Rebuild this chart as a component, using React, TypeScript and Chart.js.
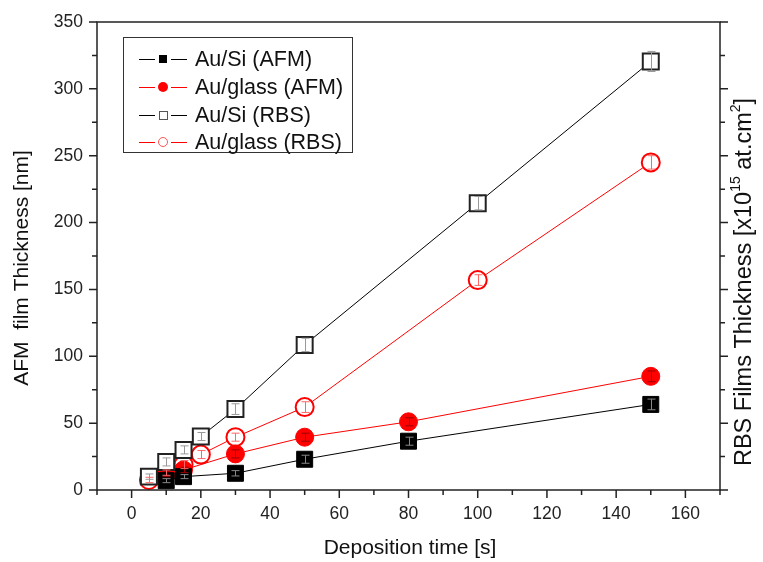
import React, { useEffect, useRef } from 'react';
import { Chart, registerables } from 'chart.js';
Chart.register(...registerables);

// ---- data ----
const siAfmX = [10, 15, 30, 50, 80, 150];
const siAfmY = [7, 10, 12.5, 23, 36.5, 64];
const siAfmErr = [1.5, 1.5, 2, 3, 3, 4];

const glassAfmX = [10, 15, 30, 50, 80, 150];
const glassAfmY = [12, 15, 27, 39.5, 51, 85];
const glassAfmErr = [2, 2, 3, 3, 3, 4];

const siRbsX = [5, 10, 15, 20, 30, 50, 100, 150];
const siRbsY = [10, 21, 30, 40, 60.5, 108.5, 214.5, 320.5];
const siRbsErr = [2, 3, 3, 3, 4, 5, 5, 7.5];

const glassRbsX = [5, 10, 15, 20, 30, 50, 100, 150];
const glassRbsY = [7.5, 13, 19, 26.5, 39.5, 62, 157, 245];
const glassRbsErr = [2, 2, 3, 3, 3, 4, 4, 5];

const seriesNames = ['Au/Si (AFM)', 'Au/glass (AFM)', 'Au/Si (RBS)', 'Au/glass (RBS)'];

const xTickValues = [0, 20, 40, 60, 80, 100, 120, 140, 160];
const yTickValues = [0, 50, 100, 150, 200, 250, 300, 350];

const xTitle = 'Deposition time [s]';
const yTitle = 'AFM  film Thickness [nm]';
const y2TitleParts = ['RBS Films Thickness [x10', '15', ' at.cm', '2', ']'];

const FONT = 'Arial, "Liberation Sans", sans-serif';

const pts = (xs: number[], ys: number[]) => xs.map((x, i) => ({ x, y: ys[i] }));

const decorPlugin = {
  id: 'decor',
  afterDatasetsDraw(chart: any) {
    const ctx = chart.ctx;
    const xs = chart.scales.x;
    const ys = chart.scales.y;
    chart.data.datasets.forEach((ds: any) => {
      if (!ds.errors) return;
      ctx.save();
      ctx.strokeStyle = ds.errColor;
      ctx.lineWidth = 1;
      ds.data.forEach((p: any, i: number) => {
        const e = ds.errors[i];
        const px = Math.round(xs.getPixelForValue(p.x)) + 0.5;
        const y1 = ys.getPixelForValue(p.y + e);
        const y2 = ys.getPixelForValue(p.y - e);
        ctx.beginPath();
        ctx.moveTo(px, y1);
        ctx.lineTo(px, y2);
        ctx.moveTo(px - 4, y1);
        ctx.lineTo(px + 4, y1);
        ctx.moveTo(px - 4, y2);
        ctx.lineTo(px + 4, y2);
        ctx.stroke();
      });
      ctx.restore();
    });
  },
  afterDraw(chart: any) {
    const ctx = chart.ctx;
    const { left, right, top, bottom } = chart.chartArea;
    const xs = chart.scales.x;
    const ys = chart.scales.y;
    ctx.save();
    ctx.strokeStyle = '#222';
    ctx.lineWidth = 1.5;
    ctx.strokeRect(left, top, right - left, bottom - top);
    ctx.beginPath();
    for (let v = 0; v <= 350; v += 25) {
      const py = ys.getPixelForValue(v);
      const len = v % 50 === 0 ? 8 : 5;
      ctx.moveTo(left, py);
      ctx.lineTo(left - len, py);
      ctx.moveTo(right, py);
      ctx.lineTo(right + len, py);
    }
    for (let v = -10; v <= 170; v += 10) {
      const px = xs.getPixelForValue(v);
      const len = v % 20 === 0 ? 8 : 5;
      ctx.moveTo(px, bottom);
      ctx.lineTo(px, bottom + len);
    }
    ctx.stroke();

    // titles
    ctx.fillStyle = '#111';
    ctx.font = `21px ${FONT}`;
    ctx.textAlign = 'center';
    ctx.textBaseline = 'middle';
    ctx.fillText(xTitle, 410, 548);

    ctx.save();
    ctx.translate(22, 268);
    ctx.rotate(-Math.PI / 2);
    ctx.fillText(yTitle, 0, 0);
    ctx.restore();

    // right title with superscripts
    ctx.save();
    ctx.translate(745, 282);
    ctx.rotate(-Math.PI / 2);
    const big = `23.5px ${FONT}`;
    const small = `14px ${FONT}`;
    let total = 0;
    y2TitleParts.forEach((t, i) => {
      ctx.font = i % 2 === 1 ? small : big;
      total += ctx.measureText(t).width;
    });
    let cx = -total / 2;
    ctx.textAlign = 'left';
    y2TitleParts.forEach((t, i) => {
      const sup = i % 2 === 1;
      ctx.font = sup ? small : big;
      ctx.fillText(t, cx, sup ? -9 : 0);
      cx += ctx.measureText(t).width;
    });
    ctx.restore();

    // legend
    const bx = 123, by = 37, bw = 229, bh = 115;
    ctx.fillStyle = '#fff';
    ctx.fillRect(bx, by, bw, bh);
    ctx.strokeStyle = '#333';
    ctx.lineWidth = 1;
    ctx.strokeRect(bx + 0.5, by + 0.5, bw, bh);
    const rows = [59, 87, 115, 142];
    const lcolors = ['#000', '#f00', '#000', '#f00'];
    rows.forEach((ry, i) => {
      ctx.strokeStyle = lcolors[i];
      ctx.lineWidth = 1;
      ctx.beginPath();
      ctx.moveTo(139, ry + 0.5);
      ctx.lineTo(155, ry + 0.5);
      ctx.moveTo(171, ry + 0.5);
      ctx.lineTo(187, ry + 0.5);
      ctx.stroke();
      const mx = 163;
      if (i === 0) {
        ctx.fillStyle = '#000';
        ctx.fillRect(mx - 4, ry - 4, 8, 8);
      } else if (i === 1) {
        ctx.fillStyle = '#f00';
        ctx.beginPath();
        ctx.arc(mx, ry, 5, 0, Math.PI * 2);
        ctx.fill();
      } else if (i === 2) {
        ctx.strokeStyle = '#555';
        ctx.strokeRect(mx - 4 + 0.5, ry - 4 + 0.5, 8, 8);
      } else {
        ctx.strokeStyle = '#f55';
        ctx.beginPath();
        ctx.arc(mx, ry, 4.5, 0, Math.PI * 2);
        ctx.stroke();
      }
      ctx.fillStyle = '#111';
      ctx.font = `21.5px ${FONT}`;
      ctx.textAlign = 'left';
      ctx.textBaseline = 'middle';
      ctx.fillText(seriesNames[i], 195, ry + 1);
    });
    ctx.restore();
  },
};

export default function App() {
  const ref = useRef<HTMLCanvasElement | null>(null);
  useEffect(() => {
    if (!ref.current) return;
    const chart = new Chart(ref.current, {
      type: 'line',
      data: {
        datasets: [
          {
            label: seriesNames[2],
            data: pts(siRbsX, siRbsY),
            borderColor: '#000',
            borderWidth: 1,
            pointStyle: 'rect',
            pointRadius: 11.3,
            pointBackgroundColor: '#fff',
            pointBorderColor: '#222',
            pointBorderWidth: 2,
            errors: siRbsErr,
            errColor: '#999',
            order: 0,
          } as any,
          {
            label: seriesNames[0],
            data: pts(siAfmX, siAfmY),
            borderColor: '#000',
            borderWidth: 1,
            pointStyle: 'rect',
            pointRadius: 11.3,
            pointBackgroundColor: '#000',
            pointBorderColor: '#000',
            pointBorderWidth: 1,
            errors: siAfmErr,
            errColor: '#888',
            order: 1,
          } as any,
          {
            label: seriesNames[1],
            data: pts(glassAfmX, glassAfmY),
            borderColor: '#f00',
            borderWidth: 1,
            pointStyle: 'circle',
            pointRadius: 9,
            pointBackgroundColor: '#f00',
            pointBorderColor: '#f00',
            pointBorderWidth: 1,
            errors: glassAfmErr,
            errColor: '#900',
            order: 2,
          } as any,
          {
            label: seriesNames[3],
            data: pts(glassRbsX, glassRbsY),
            borderColor: '#f00',
            borderWidth: 1,
            pointStyle: 'circle',
            pointRadius: 9,
            pointBackgroundColor: '#fff',
            pointBorderColor: '#f00',
            pointBorderWidth: 2,
            errors: glassRbsErr,
            errColor: '#f66',
            order: 3,
          } as any,
        ],
      },
      options: {
        animation: false,
        responsive: false,
        devicePixelRatio: 1,
        layout: { padding: { top: 22, right: 43, left: 0, bottom: 0 } },
        plugins: { legend: { display: false }, tooltip: { enabled: false } },
        scales: {
          x: {
            type: 'linear',
            min: -10,
            max: 170,
            grid: { display: false },
            border: { display: false },
            ticks: { font: { size: 17.5, family: FONT }, color: '#222', padding: 6 },
            afterBuildTicks: (s: any) => {
              s.ticks = xTickValues.map((v) => ({ value: v }));
            },
            afterFit: (s: any) => {
              s.height = 72;
            },
          },
          y: {
            type: 'linear',
            min: 0,
            max: 350,
            grid: { display: false },
            border: { display: false },
            ticks: { font: { size: 17.5, family: FONT }, color: '#222', padding: 6 },
            afterBuildTicks: (s: any) => {
              s.ticks = yTickValues.map((v) => ({ value: v }));
            },
            afterFit: (s: any) => {
              s.width = 97;
            },
          },
        },
      } as any,
      plugins: [decorPlugin],
    });
    return () => chart.destroy();
  }, []);
  return (
    <div style={{ position: 'fixed', left: 0, top: 0, width: 763, height: 562, background: '#fff' }}>
      <canvas ref={ref} width={763} height={562} style={{ width: 763, height: 562, display: 'block' }} />
    </div>
  );
}
